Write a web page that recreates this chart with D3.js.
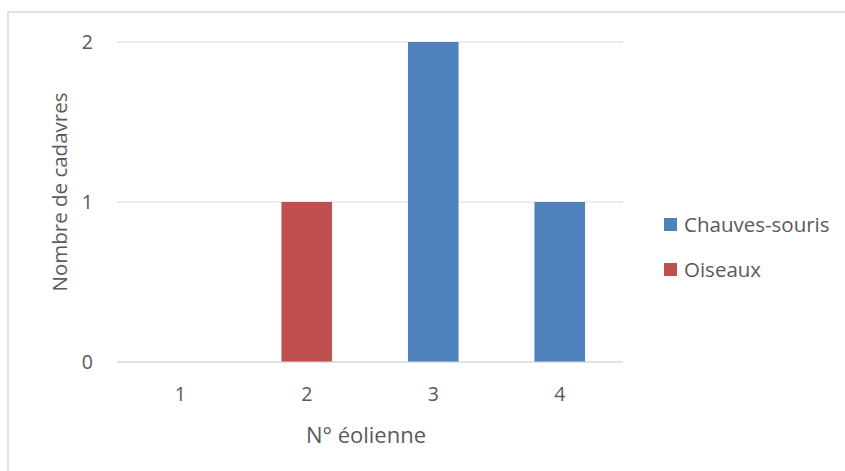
<!DOCTYPE html>
<html>
<head>
<meta charset="utf-8">
<script src="https://cdn.jsdelivr.net/npm/d3@7/dist/d3.min.js"></script>
<style>
  html, body { margin: 0; padding: 0; background: #fff; }
  svg { display: block; font-family: "Open Sans", sans-serif; }
</style>
</head>
<body>
<svg id="chart" width="845" height="471"></svg>
<script>
// Turbines and carcass counts per group
const categories = ["1", "2", "3", "4"];
const seriesNames = ["Chauves-souris", "Oiseaux"];
const chauvesSouris = [0, 0, 2, 1];
const oiseaux = [0, 1, 0, 0];
const yTicks = [0, 1, 2];
const colors = ["#4f81bd", "#c0504d"];

const svg = d3.select("#chart");
const textColor = "#595959";
const font = "'Open Sans', sans-serif";

// chart frame
svg.append("rect")
  .attr("x", 8).attr("y", 12)
  .attr("width", 900).attr("height", 500)
  .attr("fill", "none")
  .attr("stroke", "#d9d9d9")
  .attr("stroke-width", 1.5);

const plot = { left: 117, right: 623, top: 42, bottom: 362 };

const x = d3.scaleBand()
  .domain(categories)
  .range([plot.left, plot.right])
  .paddingInner(0.6)
  .paddingOuter(0.3);

const y = d3.scaleLinear()
  .domain([0, 2])
  .range([plot.bottom, plot.top]);

// gridlines
svg.append("g")
  .selectAll("line")
  .data(yTicks)
  .join("line")
  .attr("x1", plot.left).attr("x2", plot.right)
  .attr("y1", d => y(d)).attr("y2", d => y(d))
  .attr("stroke", "#d9d9d9")
  .attr("stroke-width", 1);

// y axis labels
const yAxis = d3.axisLeft(y).tickValues(yTicks).tickSize(0).tickPadding(0).tickFormat(d3.format("d"));
const gy = svg.append("g")
  .attr("transform", `translate(${plot.left - 24},0)`)
  .call(yAxis);
gy.select(".domain").remove();
gy.selectAll("text")
  .attr("dy", "0.33em")
  .attr("fill", textColor)
  .style("font-size", "19.5px")
  .style("font-family", font);

// stacked series
const rows = categories.map((c, i) => ({ cat: c, "Chauves-souris": chauvesSouris[i], "Oiseaux": oiseaux[i] }));
const stacked = d3.stack().keys(seriesNames)(rows);

svg.append("g")
  .selectAll("g")
  .data(stacked)
  .join("g")
  .attr("fill", (d, i) => colors[i])
  .selectAll("rect")
  .data(d => d)
  .join("rect")
  .attr("x", d => x(d.data.cat))
  .attr("width", x.bandwidth())
  .attr("y", d => y(d[1]))
  .attr("height", d => y(d[0]) - y(d[1]));

// baseline
svg.append("line")
  .attr("x1", plot.left).attr("x2", plot.right)
  .attr("y1", y(0)).attr("y2", y(0))
  .attr("stroke", "#d9d9d9")
  .attr("stroke-width", 1);

// x axis labels
const xAxis = d3.axisBottom(x).tickSize(0).tickPadding(0);
const gx = svg.append("g")
  .attr("transform", `translate(0,${plot.bottom})`)
  .call(xAxis);
gx.select(".domain").remove();
gx.selectAll("text")
  .attr("y", 38.5)
  .attr("dy", null)
  .attr("fill", textColor)
  .style("font-size", "19.5px")
  .style("font-family", font);

// axis titles
svg.append("text")
  .attr("x", (plot.left + plot.right) / 2 - 4)
  .attr("y", 443)
  .attr("text-anchor", "middle")
  .attr("fill", textColor)
  .style("font-size", "22px")
  .text("N° éolienne");

svg.append("text")
  .attr("transform", `translate(67,${(plot.top + plot.bottom) / 2 - 10}) rotate(-90)`)
  .attr("text-anchor", "middle")
  .attr("fill", textColor)
  .style("font-size", "20.5px")
  .text("Nombre de cadavres");

// legend
const legend = svg.append("g")
  .selectAll("g")
  .data(seriesNames)
  .join("g")
  .attr("transform", (d, i) => `translate(664,${218 + i * 45})`);
legend.append("rect")
  .attr("width", 13).attr("height", 13)
  .attr("fill", (d, i) => colors[i]);
legend.append("text")
  .attr("x", 20).attr("y", 13.5)
  .attr("fill", textColor)
  .style("font-size", "20.5px")
  .text(d => d);
</script>
</body>
</html>
